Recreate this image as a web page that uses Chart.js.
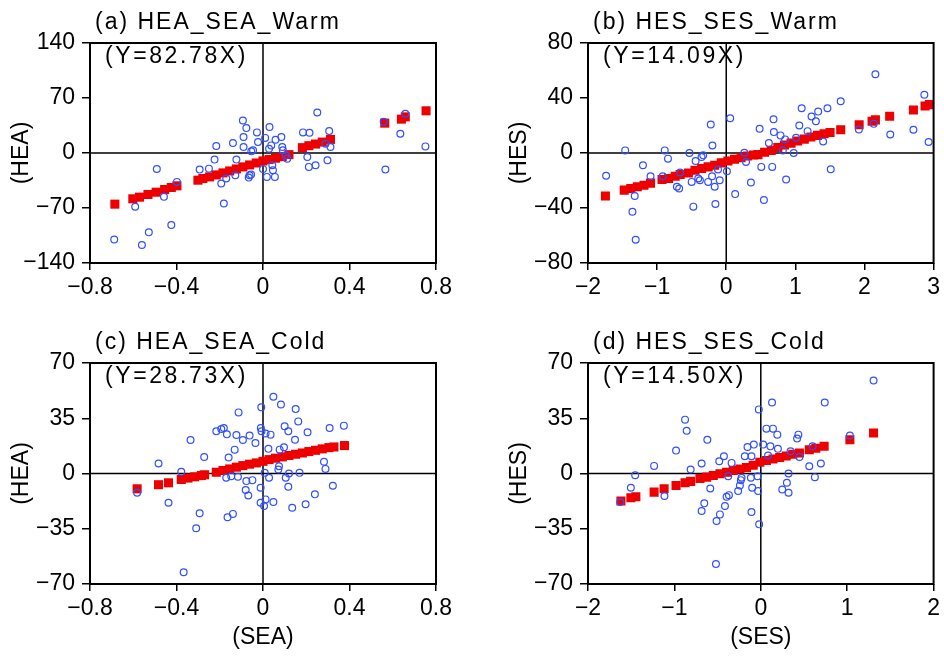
<!DOCTYPE html>
<html>
<head>
<meta charset="utf-8">
<script src="https://cdn.jsdelivr.net/npm/chart.js@4.4.1/dist/chart.umd.min.js"></script>
<style>
  body { margin: 0; background: #fff; }
  #wrap { position: relative; width: 944px; height: 661px; }
  canvas { position: absolute; }
</style>
</head>
<body>
<div id="wrap">
  <canvas id="panelA" width="472" height="330" style="left:0;top:0"></canvas>
  <canvas id="panelB" width="472" height="330" style="left:472px;top:0"></canvas>
  <canvas id="panelC" width="472" height="330" style="left:0;top:331px"></canvas>
  <canvas id="panelD" width="472" height="330" style="left:472px;top:331px"></canvas>
</div>
<script>
// (a) HEA vs SEA, warm season: samples [SEA, HEA]
const warmSeaHea = [
    [-0.093, 41.4], [-0.077, 31.7], [-0.028, 26.2], [-0.090, 20.3], [-0.139, 12.7], [-0.216, 8.9],
    [-0.023, 13.9], [0.010, 19.2], [0.030, 33.0], [-0.090, 7.6], [-0.054, 2.1], [-0.046, 3.4],
    [-0.224, -8.4], [-0.293, -21.1], [-0.250, -19.9], [-0.491, -20.3], [-0.398, -36.8], [-0.123, -8.4],
    [-0.193, -38.9], [-0.170, -32.5], [-0.128, -28.3], [-0.062, -28.3], [-0.055, -27.5], [-0.066, -31.3],
    [0.000, -20.5], [0.018, -30.4], [-0.458, -55.8], [-0.591, -68.4], [-0.181, -64.2], [-0.424, -91.7],
    [-0.528, -101], [-0.688, -110], [-0.560, -117],
    [0.251, 51.5], [0.185, 26.2], [0.215, 25.8], [0.306, 27.9], [0.085, 20.3], [0.058, 16.9],
    [0.038, 9.7], [0.089, 7.6], [0.092, 3.4], [0.028, 5.5], [0.289, 11.8], [0.312, 7.6],
    [0.205, -5.1], [0.112, -7.2], [0.105, -3.0], [0.212, -17.7], [0.243, -15.6], [0.298, -9.3],
    [0.043, -15.6], [0.046, -22.0], [0.055, -30.4], [0.558, 39.7], [0.658, 49.9], [0.635, 24.5],
    [0.751, 8.4], [0.566, -21.1]
];
const warmSeaFitX = [-0.685, -0.602, -0.571, -0.532, -0.494, -0.455, -0.424, -0.398, -0.301, -0.278, -0.247,
    -0.216, -0.185, -0.154, -0.123, -0.093, -0.062, -0.031, 0, 0.028, 0.058, 0.089, 0.12, 0.182, 0.212,
    0.243, 0.274, 0.312, 0.563, 0.640, 0.658, 0.754];
const warmSeaFitY = [-65.1, -58.3, -56.2, -52.8, -49.9, -46.5, -43.9, -41.8, -34.6, -32.5, -30.4,
    -27.9, -25.3, -22.8, -20.3, -17.7, -15.2, -12.7, -10.1, -8.3, -6.6, -4.6, -2.1, 6.8, 9.3,
    11.4, 13.9, 17.3, 38.0, 43.1, 46.0, 53.7];

// (b) HES vs SES, warm season
const warmSesHes = [
    [-1.738, -16.6], [-1.462, 1.9], [-1.324, -31.3], [-1.357, -42.7], [-1.310, -63.1], [-1.205, -8.9],
    [-1.095, -16.9], [-0.890, 1.9], [-0.843, -4.1], [-0.919, -16.9], [-0.714, -24.6], [-0.681, -25.8],
    [-0.667, -14.2], [-0.533, 0], [-0.476, -39.0], [-0.500, -21.0], [-0.443, -5.8], [-0.357, -2.9],
    [-0.333, -1.7], [-0.381, -19.8], [-0.405, -18.6], [-0.224, 20.7], [-0.200, 5.5], [-0.262, -21.0],
    [-0.205, -16.9], [-0.167, -24.6], [-0.157, -37.1], [-0.095, -19.8], [-0.119, -12.0], [0.010, -13.3],
    [0.057, 25.3], [0.129, -29.9], [0.262, 0.2], [0.286, -6.5], [0.357, -21.4],
    [0.483, 17.6], [0.507, -10.1], [0.545, -34.2], [0.617, 7.2], [0.665, -10.1], [0.684, 24.6],
    [0.689, 15.2], [0.785, 12.8], [0.852, 9.9], [0.818, 1.9], [0.866, -19.3], [0.976, 0],
    [1.010, 11.1], [1.057, 20.0], [1.091, 32.5], [1.177, 15.9], [1.234, 26.5], [1.297, 23.1],
    [1.330, 30.1], [1.464, 32.5], [1.402, 8.4], [1.512, -11.8], [1.656, 37.6], [1.919, 17.1],
    [2.134, 21.2], [2.158, 57.3], [2.373, 13.5], [2.708, 16.9], [2.866, 42.4], [2.928, 8.0]
];
const warmSesFitX = [-1.748, -1.476, -1.381, -1.286, -1.190, -1.095, -0.929, -0.833, -0.738, -0.667, -0.548,
    -0.452, -0.357, -0.262, -0.167, -0.071, 0.024, 0.119, 0.214, 0.310, 0.395, 0.459, 0.555, 0.651,
    0.746, 0.842, 0.938, 1.033, 1.129, 1.225, 1.321, 1.416, 1.502, 1.656, 1.923, 2.110, 2.158, 2.364,
    2.708, 2.876, 2.938];
const warmSesFitY = [-31.3, -27.0, -25.8, -24.6, -23.4, -21.9, -19.3, -18.6, -16.9, -15.7, -14.5,
    -12.5, -11.3, -10.1, -8.9, -7.2, -5.8, -4.6, -3.4, -2.2, -1.5, -1.2, 0.5, 1.9,
    3.9, 5.8, 7.2, 8.7, 10.1, 11.6, 12.8, 14.0, 14.9, 16.9, 20.5, 23.1, 24.1, 26.7,
    31.3, 34.2, 35.2];

// (c) HEA vs SEA, cold season
const coldSeaHea = [
    [-0.582, -12.2], [-0.483, 6.3], [-0.437, -18.5], [-0.378, 1.1], [-0.367, -62.6], [-0.335, 21.2],
    [-0.309, -34.7], [-0.293, -25.2], [-0.272, 10.5], [-0.216, 26.7], [-0.193, 28.2], [-0.181, 28.8],
    [-0.167, 24.8], [-0.123, 24.4], [-0.113, 38.7], [-0.159, 10.1], [-0.131, 15.1], [-0.093, 21.2],
    [-0.062, 24.0], [-0.035, 19.3], [-0.170, -2.7], [-0.147, -1.7], [-0.116, -2.1], [-0.077, -4.8],
    [-0.049, -4.2], [-0.080, -10.5], [-0.068, -13.9], [-0.164, -27.7], [-0.139, -25.6],
    [0.048, 48.6], [-0.008, 42.0], [0.083, 43.7], [0.151, 40.8], [0.163, 33.0], [0.100, 29.9],
    [0.117, 26.7], [-0.010, 28.8], [-0.007, 26.8], [0.012, 25.3], [0.035, 24.6], [0.206, 26.1],
    [0.308, 28.8], [0.374, 30.3], [0.148, 21.4], [0.025, 15.6], [0.077, 15.1], [0.097, 16.6],
    [0.282, 7.4], [0.289, 2.9], [0.074, 4.6], [0.071, 2.5], [0.120, 0], [0.169, 0.4],
    [0.008, 0.4], [0.028, -2.7], [0.105, -2.7], [0.117, -8.4], [-0.011, -9.0], [0.323, -7.8],
    [0.240, -13.2], [0.197, -19.5], [0.135, -21.7], [0.048, -18.1], [0.012, -16.4], [0.005, -20.6],
    [-0.011, -18.5]
];
const coldSeaFitX = [-0.582, -0.483, -0.437, -0.378, -0.347, -0.316, -0.285, -0.270, -0.216, -0.185,
    -0.154, -0.123, -0.093, -0.062, -0.031, 0, 0.028, 0.058, 0.089, 0.12, 0.151, 0.182, 0.212,
    0.243, 0.274, 0.305, 0.328, 0.377];
const coldSeaFitY = [-9.7, -7.1, -5.9, -3.8, -2.9, -2.1, -1.3, -0.8, 0.8, 1.9,
    2.9, 4.0, 5.0, 5.9, 6.7, 7.7, 8.8, 9.7, 10.5, 11.4, 12.2, 13.0, 13.9,
    14.7, 15.6, 16.4, 16.8, 17.7];

// (d) HES vs SES, cold season
const coldSesHes = [
    [-1.627, -18.1], [-1.504, -9.0], [-1.454, -1.1], [-1.235, 4.8], [-1.115, -14.3], [-0.981, 14.5],
    [-0.858, 27.1], [-0.877, 34.1], [-0.812, 2.5], [-0.619, 21.4], [-0.685, 6.3], [-0.585, -9.5],
    [-0.654, -18.9], [-0.685, -23.8], [-0.512, -30.1], [-0.473, -25.9], [-0.415, -20.6], [-0.396, -14.7],
    [-0.369, -13.7], [-0.481, 7.8], [-0.427, 10.9], [-0.338, 6.7], [-0.377, -1.7], [-0.519, -57.4],
    [-0.262, -11.1], [-0.242, -7.6], [-0.231, -4.2], [-0.223, -2.7], [-0.185, 10.9], [-0.154, 16.8],
    [-0.108, 10.9], [-0.115, -2.7], [-0.100, -9.0], [-0.108, -24.4], [-0.081, 18.3],
    [-0.023, 40.6], [0.130, 45.0], [0.740, 45.0], [1.305, 58.9], [0.065, 28.4], [0.141, 28.4],
    [0.191, 24.6], [0.435, 24.6], [0.420, 22.1], [1.031, 24.0], [0.027, 18.3], [0.111, 17.2],
    [0.198, 15.6], [0.344, 14.1], [0.599, 17.2], [0.084, 11.4], [0.447, 10.5], [0.561, 4.6],
    [0.695, 6.3], [0.321, 0], [0.626, -2.3], [-0.038, -1.7], [0.302, -5.9], [0.248, -10.1],
    [0.321, -12.2], [-0.031, -11.1], [-0.019, -32.2]
];
const coldSesFitX = [-1.619, -1.504, -1.446, -1.235, -1.119, -0.981, -0.877, -0.812, -0.704, -0.627,
    -0.550, -0.473, -0.396, -0.319, -0.242, -0.165, -0.088, -0.011, 0.065, 0.141, 0.218, 0.294,
    0.370, 0.447, 0.561, 0.637, 0.733, 1.031, 1.305];
const coldSesFitY = [-17.4, -15.3, -14.7, -11.8, -9.7, -7.6, -5.9, -5.0, -3.2, -2.3,
    -1.3, -0.2, 0.8, 1.9, 2.9, 3.8, 5.2, 7.1, 8.2, 9.2, 10.1, 11.1,
    12.2, 13.0, 15.1, 16.0, 17.2, 21.4, 25.6];

const FONT = "'Liberation Sans', Arial, sans-serif";

function tickText(v) {
    const s = Math.abs(v) < 1e-9 ? "0" : String(Math.round(v * 100) / 100);
    return s.replace("-", "\u2212");
}

const panelDecor = {
    id: "panelDecor",
    beforeDatasetsDraw(chart) {
        const { ctx, chartArea: a, scales } = chart;
        const x0 = scales.x.getPixelForValue(0);
        const y0 = scales.y.getPixelForValue(0);
        ctx.save();
        ctx.strokeStyle = "#000";
        ctx.lineWidth = 1.5;
        ctx.beginPath();
        ctx.moveTo(x0, a.top);
        ctx.lineTo(x0, a.bottom);
        ctx.moveTo(a.left, y0);
        ctx.lineTo(a.right, y0);
        ctx.stroke();
        ctx.restore();
    },
    afterDraw(chart, args, opts) {
        const { ctx, chartArea: a } = chart;
        ctx.save();
        ctx.strokeStyle = "#000";
        ctx.lineWidth = 2;
        ctx.strokeRect(a.left, a.top, a.right - a.left, a.bottom - a.top);

        ctx.fillStyle = "#000";
        ctx.textBaseline = "middle";
        ctx.textAlign = "left";
        ctx.font = "23px " + FONT;
        ctx.letterSpacing = "2px";
        ctx.fillText(opts.title, a.left + 5, a.top - 20);
        ctx.letterSpacing = "2.6px";
        ctx.fillText(opts.eq, a.left + 15, a.top + 14);
        ctx.letterSpacing = "0px";

        ctx.font = "23px " + FONT;
        ctx.textAlign = "center";
        ctx.save();
        ctx.translate(a.left - 68, (a.top + a.bottom) / 2);
        ctx.rotate(-Math.PI / 2);
        ctx.fillText(opts.yTitle, 0, 0);
        ctx.restore();
        if (opts.xTitle) {
            ctx.fillText(opts.xTitle, (a.left + a.right) / 2, a.bottom + 54);
        }
        ctx.restore();
    }
};

function renderPanel(canvasId, pts, fitX, fitY, cfg) {
    const ctx = document.getElementById(canvasId);
    new Chart(ctx, {
        type: "scatter",
        data: {
            datasets: [
                {
                    label: "samples",
                    data: pts.map(p => ({ x: p[0], y: p[1] })),
                    pointStyle: "circle",
                    pointRadius: 3.4,
                    borderWidth: 1.2,
                    borderColor: "#3050ff",
                    backgroundColor: "rgba(0,0,0,0)",
                },
                {
                    label: "fit",
                    data: fitX.map((v, i) => ({ x: v, y: fitY[i] })),
                    pointStyle: "rect",
                    pointRadius: 6.4,
                    borderWidth: 0,
                    backgroundColor: "#ee0000",
                    borderColor: "#ee0000",
                },
            ],
        },
        options: {
            responsive: false,
            animation: false,
            layout: {
                padding: { top: cfg.padTop, right: cfg.padRight, bottom: cfg.padBottom, left: 0 },
            },
            scales: {
                x: {
                    type: "linear",
                    min: cfg.xMin,
                    max: cfg.xMax,
                    afterFit: s => { s.height = 34; },
                    ticks: {
                        stepSize: cfg.xStep,
                        padding: 4,
                        color: "#000",
                        font: { family: FONT, size: 23 },
                        callback: tickText,
                    },
                    grid: { drawOnChartArea: false, tickLength: 7, color: "#000", lineWidth: 1.5 },
                    border: { display: false },
                },
                y: {
                    min: cfg.yMin,
                    max: cfg.yMax,
                    afterFit: s => { s.width = cfg.yWidth; },
                    ticks: {
                        stepSize: cfg.yStep,
                        padding: 7,
                        color: "#000",
                        font: { family: FONT, size: 23 },
                        callback: tickText,
                    },
                    grid: { drawOnChartArea: false, tickLength: 8, color: "#000", lineWidth: 1.5 },
                    border: { display: false },
                },
            },
            plugins: {
                legend: { display: false },
                tooltip: { enabled: false },
                panelDecor: cfg.text,
            },
        },
        plugins: [panelDecor],
    });
}

renderPanel("panelA", warmSeaHea, warmSeaFitX, warmSeaFitY, {
    xMin: -0.8, xMax: 0.8, xStep: 0.4, yMin: -140, yMax: 140, yStep: 70,
    yWidth: 90, padTop: 43, padRight: 36, padBottom: 33,
    text: { title: "(a) HEA_SEA_Warm", eq: "(Y=82.78X)", yTitle: "(HEA)" },
});
renderPanel("panelB", warmSesHes, warmSesFitX, warmSesFitY, {
    xMin: -2, xMax: 3, xStep: 1, yMin: -80, yMax: 80, yStep: 40,
    yWidth: 116, padTop: 43, padRight: 9, padBottom: 33,
    text: { title: "(b) HES_SES_Warm", eq: "(Y=14.09X)", yTitle: "(HES)" },
});
renderPanel("panelC", coldSeaHea, coldSeaFitX, coldSeaFitY, {
    xMin: -0.8, xMax: 0.8, xStep: 0.4, yMin: -70, yMax: 70, yStep: 35,
    yWidth: 90, padTop: 32, padRight: 36, padBottom: 43,
    text: { title: "(c) HEA_SEA_Cold", eq: "(Y=28.73X)", yTitle: "(HEA)", xTitle: "(SEA)" },
});
renderPanel("panelD", coldSesHes, coldSesFitX, coldSesFitY, {
    xMin: -2, xMax: 2, xStep: 1, yMin: -70, yMax: 70, yStep: 35,
    yWidth: 116, padTop: 32, padRight: 9, padBottom: 43,
    text: { title: "(d) HES_SES_Cold", eq: "(Y=14.50X)", yTitle: "(HES)", xTitle: "(SES)" },
});
</script>
</body>
</html>
